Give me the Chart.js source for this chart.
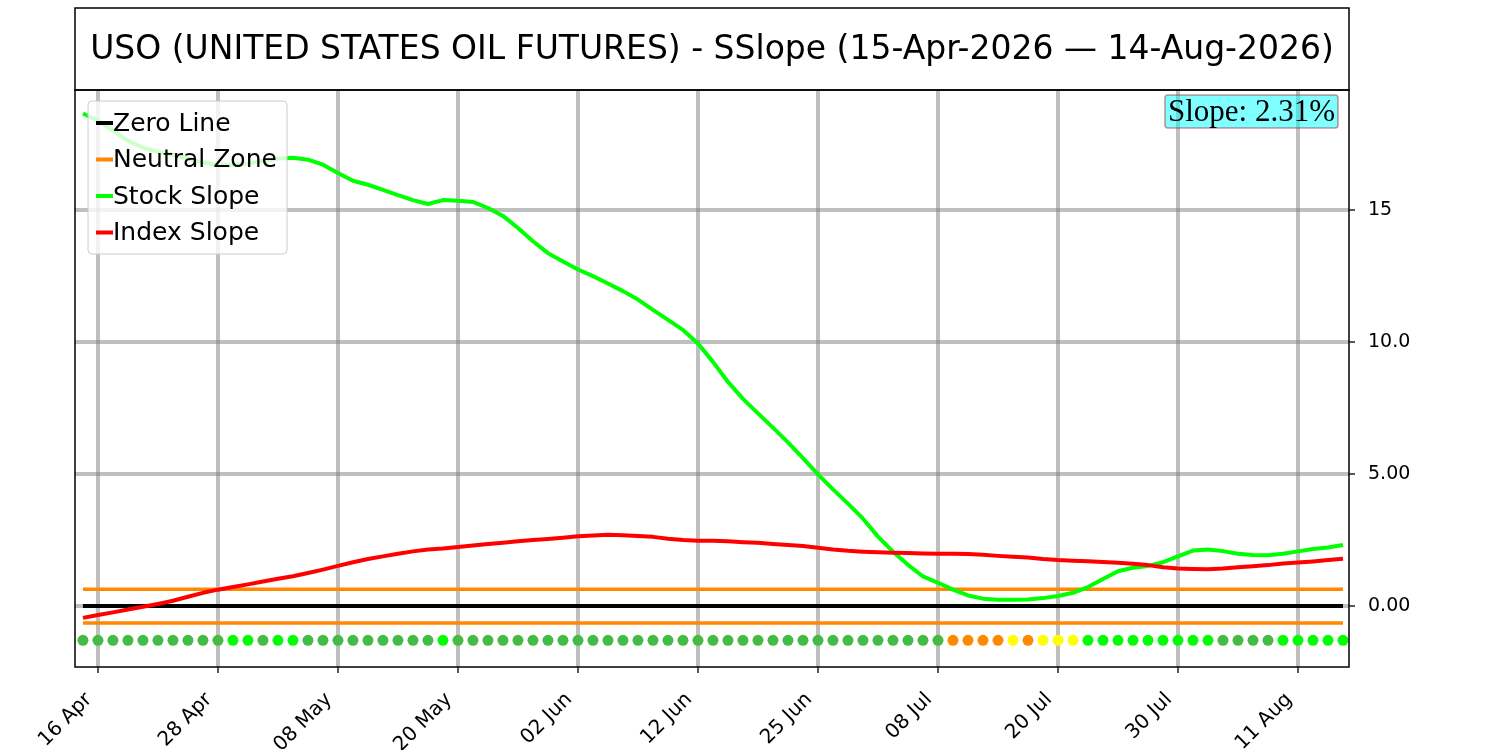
<!DOCTYPE html>
<html>
<head>
<meta charset="utf-8">
<script src="https://cdn.jsdelivr.net/npm/chart.js@4.4.1/dist/chart.umd.min.js"></script>
<style>
  html, body { margin: 0; padding: 0; background: #fff; }
  #wrap { width: 1500px; height: 750px; }
</style>
</head>
<body>
<div id="wrap"><canvas id="chart" width="1500" height="750"></canvas></div>
<script>
// trading days, 15 Apr 2026 - 14 Aug 2026
const dateLabels = [
  '15 Apr','16 Apr','17 Apr','20 Apr','21 Apr','22 Apr','23 Apr','24 Apr','27 Apr','28 Apr','29 Apr','30 Apr',
  '01 May','04 May','05 May','06 May','07 May','08 May','11 May','12 May','13 May','14 May','15 May','18 May',
  '19 May','20 May','21 May','22 May','26 May','27 May','28 May','29 May',
  '01 Jun','02 Jun','03 Jun','04 Jun','05 Jun','08 Jun','09 Jun','10 Jun','11 Jun','12 Jun','15 Jun','16 Jun',
  '17 Jun','18 Jun','22 Jun','23 Jun','24 Jun','25 Jun','26 Jun','29 Jun','30 Jun',
  '01 Jul','02 Jul','06 Jul','07 Jul','08 Jul','09 Jul','10 Jul','13 Jul','14 Jul','15 Jul','16 Jul','17 Jul',
  '20 Jul','21 Jul','22 Jul','23 Jul','24 Jul','27 Jul','28 Jul','29 Jul','30 Jul','31 Jul',
  '03 Aug','04 Aug','05 Aug','06 Aug','07 Aug','10 Aug','11 Aug','12 Aug','13 Aug','14 Aug'
];

const stockSlope = [
  18.66, 18.39, 18.01, 17.63, 17.36, 17.21, 17.10, 16.95, 16.80, 16.72, 16.72, 16.76,
  16.87, 16.95, 16.98, 16.91, 16.72, 16.41, 16.11, 15.96, 15.77, 15.57, 15.38, 15.23,
  15.38, 15.35, 15.31, 15.08, 14.78, 14.32, 13.82, 13.37,
  13.05, 12.75, 12.50, 12.22, 11.93, 11.61, 11.22, 10.84, 10.46, 9.95, 9.25, 8.49,
  7.85, 7.30, 6.76, 6.20, 5.60, 4.99, 4.42, 3.88, 3.31,
  2.63, 2.06, 1.56, 1.12, 0.88, 0.62, 0.40, 0.28, 0.24, 0.24, 0.25, 0.30,
  0.38, 0.50, 0.72, 1.02, 1.32, 1.45, 1.52, 1.66, 1.88, 2.10,
  2.14, 2.08, 1.98, 1.93, 1.92, 1.98, 2.07, 2.16, 2.22, 2.31
];

const indexSlope = [
  -0.45, -0.34, -0.24, -0.13, -0.03, 0.08, 0.20, 0.35, 0.50, 0.62, 0.72, 0.82,
  0.93, 1.03, 1.13, 1.25, 1.38, 1.52, 1.66, 1.78, 1.88, 1.98, 2.07, 2.14,
  2.18, 2.24, 2.29, 2.35, 2.40, 2.45, 2.50, 2.54,
  2.59, 2.64, 2.67, 2.70, 2.68, 2.65, 2.62, 2.55, 2.50, 2.47, 2.47, 2.45,
  2.42, 2.40, 2.35, 2.31, 2.27, 2.21, 2.14, 2.09, 2.06,
  2.04, 2.02, 2.01, 1.99, 1.98, 1.98, 1.97, 1.94, 1.90, 1.87, 1.84, 1.78,
  1.74, 1.72, 1.70, 1.67, 1.64, 1.60, 1.55, 1.47, 1.42, 1.40,
  1.39, 1.42, 1.47, 1.51, 1.55, 1.61, 1.65, 1.69, 1.74, 1.79
];

// signal dots under the lines: M = mid green, B = bright green, O = orange, Y = yellow
const signals = [
  'M','M','M','M','M','M','M','M','M','M','B','B','M','B','B','M','M','M','M','M',
  'M','M','M','M','B','M','M','M','M','M','M','M','M','M','M','M','M','M','M','M',
  'M','M','M','M','M','M','M','M','M','M','M','M','M','M','M','M','M','M','O','O',
  'O','O','Y','O','Y','Y','Y','B','B','B','B','B','B','B','B','B','M','M','M','M',
  'B','B','B','B','B'
];
const signalPalette = { M: '#44bb44', B: '#00ff00', O: '#ff8800', Y: '#ffff00' };
const signalLevel = -1.3;

const neutralZone = 0.64;
const yTicks = [0, 5, 10, 15];
const yTickLabels = ['0.00', '5.00', '10.0', '15'];
const xTickIdx = [1, 9, 17, 25, 33, 41, 49, 57, 65, 73, 81];

const title = 'USO (UNITED STATES OIL FUTURES) - SSlope (15-Apr-2026 \u2014 14-Aug-2026)';
const FONT = '"DejaVu Sans", sans-serif';

const pts = arr => arr.map((v, i) => ({ x: i, y: v }));
const flat = v => dateLabels.map((_, i) => ({ x: i, y: v }));

const lineDs = (label, data, color, order, extra) => Object.assign({
  label, data, borderColor: color, backgroundColor: color,
  borderWidth: 4, pointRadius: 0, tension: 0, order,
  borderJoinStyle: 'round'
}, extra || {});

const legendItems = [
  { text: 'Zero Line', color: '#000000' },
  { text: 'Neutral Zone', color: '#ff8800' },
  { text: 'Stock Slope', color: '#00ff00' },
  { text: 'Index Slope', color: '#ff0000' },
];

function roundRect(ctx, x, y, w, h, r) {
  ctx.beginPath();
  ctx.moveTo(x + r, y);
  ctx.arcTo(x + w, y, x + w, y + h, r);
  ctx.arcTo(x + w, y + h, x, y + h, r);
  ctx.arcTo(x, y + h, x, y, r);
  ctx.arcTo(x, y, x + w, y, r);
  ctx.closePath();
}

// frame, title box, legend and slope tag
const decorations = {
  id: 'decorations',
  afterDatasetsDraw(chart) {
    const { ctx, chartArea: a } = chart;
    ctx.save();

    // legend
    roundRect(ctx, 88, 101, 199, 153, 4);
    ctx.fillStyle = 'rgba(255,255,255,0.8)';
    ctx.fill();
    ctx.strokeStyle = '#cccccc';
    ctx.lineWidth = 1;
    ctx.stroke();
    ctx.font = '25px ' + FONT;
    ctx.textBaseline = 'middle';
    ctx.textAlign = 'left';
    legendItems.forEach((it, i) => {
      const y = 123 + i * 36.5;
      ctx.fillStyle = it.color;
      ctx.fillRect(96, y - 2, 17, 4);
      ctx.fillStyle = '#000';
      ctx.fillText(it.text, 113, y + 1);
    });

    // slope tag
    const tag = 'Slope: ' + stockSlope[stockSlope.length - 1].toFixed(2) + '%';
    ctx.font = '31px "Liberation Serif", "Times New Roman", serif';
    const tw = ctx.measureText(tag).width;
    const bx = a.right - 11 - tw - 6;
    roundRect(ctx, bx, 95, tw + 6, 33, 3);
    ctx.fillStyle = 'rgba(0,255,255,0.5)';
    ctx.fill();
    ctx.strokeStyle = 'rgba(165,42,42,0.5)';
    ctx.lineWidth = 1.5;
    ctx.stroke();
    ctx.fillStyle = '#000';
    ctx.textAlign = 'left';
    ctx.textBaseline = 'alphabetic';
    ctx.fillText(tag, bx + 3, 121);

    // plot frame + title box
    ctx.strokeStyle = '#000';
    ctx.lineWidth = 1.5;
    ctx.strokeRect(a.left, a.top, a.right - a.left, a.bottom - a.top);
    ctx.strokeRect(a.left, 8, a.right - a.left, a.top - 8);
    ctx.font = '33px ' + FONT;
    ctx.textAlign = 'center';
    ctx.textBaseline = 'middle';
    ctx.fillText(title, (a.left + a.right) / 2, 50);
    ctx.restore();
  }
};

const gridStyle = {
  color: 'rgba(128,128,128,0.5)',
  lineWidth: 4,
  tickColor: '#222',
  tickWidth: 1.5,
  tickLength: 6
};

new Chart(document.getElementById('chart'), {
  type: 'line',
  data: {
    datasets: [
      lineDs('Zero Line', flat(0), '#000000', 6),
      lineDs('Neutral Zone', flat(neutralZone), '#ff8800', 5, { borderWidth: 3.5 }),
      lineDs('Neutral Zone', flat(-neutralZone), '#ff8800', 5, { borderWidth: 3.5 }),
      lineDs('Stock Slope', pts(stockSlope), '#00ff00', 3),
      lineDs('Index Slope', pts(indexSlope), '#ff0000', 2),
      {
        label: 'Signal',
        data: flat(signalLevel),
        showLine: false,
        pointRadius: 5.5,
        pointBorderWidth: 0,
        pointBackgroundColor: signals.map(s => signalPalette[s]),
        order: 1
      }
    ]
  },
  options: {
    responsive: false,
    devicePixelRatio: 1,
    animation: false,
    events: [],
    layout: { padding: { left: 75, top: 90, right: 0, bottom: 0 } },
    plugins: { legend: { display: false }, title: { display: false }, tooltip: { enabled: false } },
    scales: {
      x: {
        type: 'linear',
        min: -0.53,
        max: 84.4,
        afterBuildTicks: s => { s.ticks = xTickIdx.map(v => ({ value: v })); },
        afterFit: s => { s.height = 83; },
        ticks: {
          autoSkip: false,
          minRotation: 45,
          maxRotation: 45,
          padding: 6,
          color: '#000',
          font: { family: FONT, size: 20 },
          // trailing spaces pull the rotated label back so its end sits at the tick
          callback: v => dateLabels[v] + '  '
        },
        grid: gridStyle,
        border: { display: false }
      },
      y: {
        type: 'linear',
        position: 'right',
        min: -2.31,
        max: 19.55,
        afterBuildTicks: s => { s.ticks = yTicks.map(v => ({ value: v })); },
        afterFit: s => { s.width = 151; },
        ticks: {
          padding: 13,
          color: '#000',
          font: { family: FONT, size: 19 },
          callback: v => yTickLabels[yTicks.indexOf(v)]
        },
        grid: gridStyle,
        border: { display: false }
      }
    }
  },
  plugins: [decorations]
});
</script>
</body>
</html>
